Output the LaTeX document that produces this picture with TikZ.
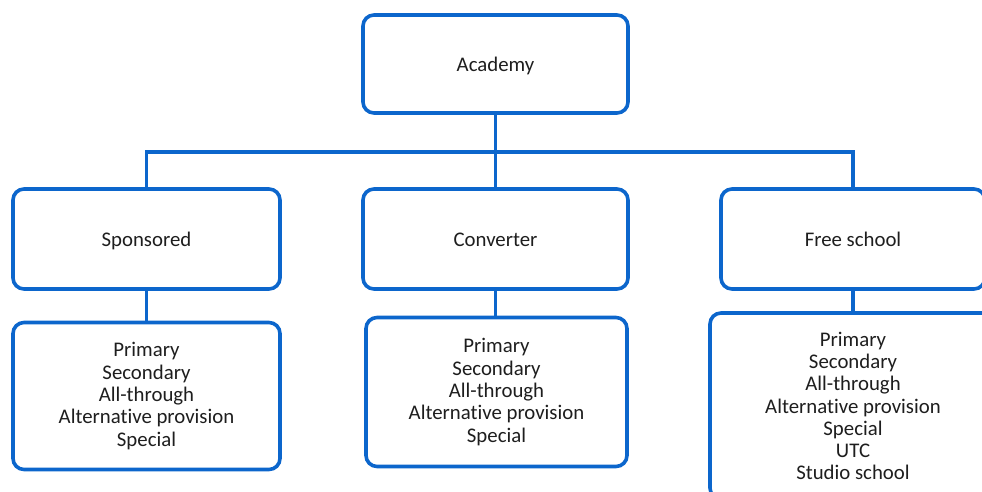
\documentclass[tikz,border=0pt]{standalone}
\usepackage{fontspec}
\setmainfont{Carlito}[Ligatures={NoCommon}]
\definecolor{boxblue}{RGB}{12,102,204}
\definecolor{txt}{RGB}{30,30,30}
\begin{document}
\begin{tikzpicture}[x=1pt,y=-1pt,
  box/.style={draw=boxblue,line width=3.6pt,rounded corners=11pt,fill=white,
    inner sep=0pt,align=center,text=txt,font=\fontsize{20.8}{22.3}\selectfont},
  head/.style={box,text height=18pt,text depth=4pt},
  link/.style={draw=boxblue,line width=3.6pt}]
\useasboundingbox (0,0) rectangle (982,491);
\begin{scope}
\clip (0,0) rectangle (982,491);
\node[head,minimum width=265pt,minimum height=98pt] (acad) at (495.5,64) {Academy};
\node[head,minimum width=267pt,minimum height=100pt] (spons) at (146.5,239) {Sponsored};
\node[head,minimum width=265pt,minimum height=100pt] (conv) at (495.5,239) {Converter};
\node[head,minimum width=264pt,minimum height=100pt] (free) at (853,239) {Free school};
\node[box,minimum width=267pt,minimum height=147pt] (sponsL) at (146.5,396) {Primary\\Secondary\\All-through\\Alternative provision\\Special};
\node[box,minimum width=261pt,minimum height=149pt] (convL) at (496.5,392) {Primary\\Secondary\\All-through\\Alternative provision\\Special};
\node[box,minimum width=286pt,minimum height=186pt] (freeL) at (853,406) {Primary\\Secondary\\All-through\\Alternative provision\\Special\\UTC\\Studio school};
\coordinate (j) at (495.5,152);
\draw[link] (acad.south) -- (j);
\draw[link] (spons.north) |- (j) -| (free.north);
\draw[link] (j) -- (conv.north);
\draw[link] (spons.south) -- (sponsL.north);
\draw[link] (conv.south) -- (conv.south |- convL.north);
\draw[link] (free.south) -- (freeL.north);
\end{scope}
\end{tikzpicture}
\end{document}
